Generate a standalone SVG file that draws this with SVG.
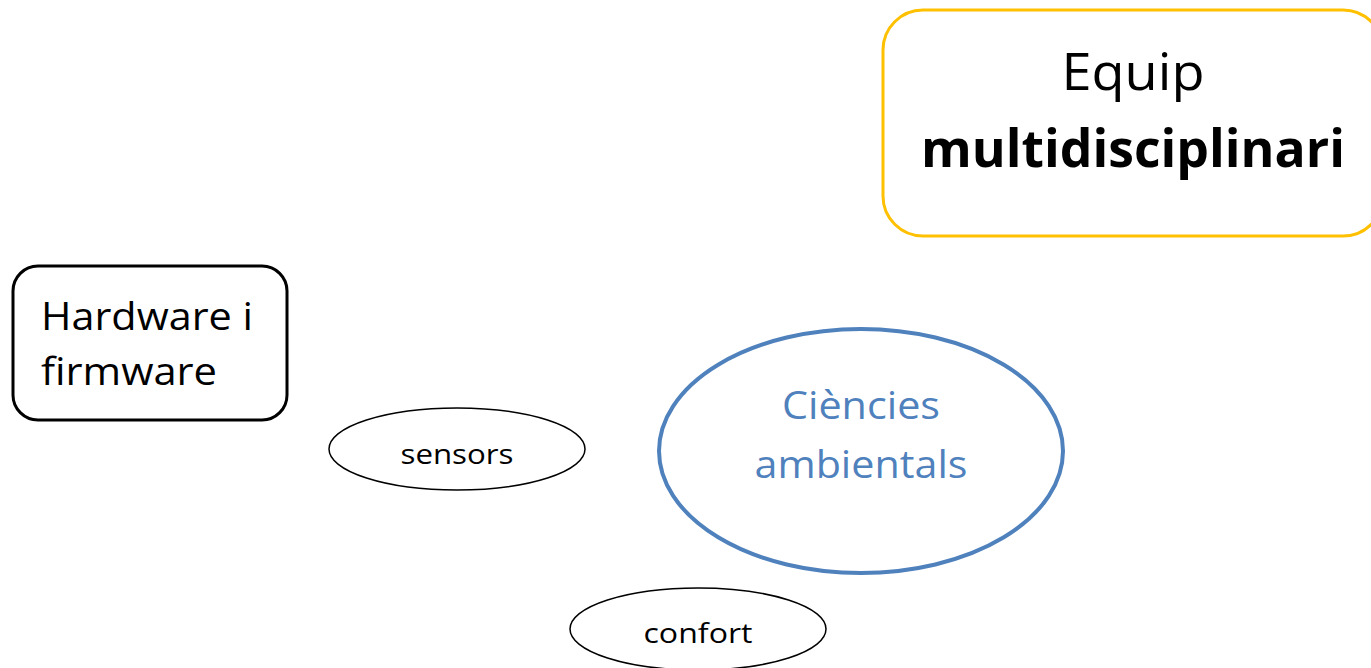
<svg xmlns="http://www.w3.org/2000/svg" width="1371" height="668" viewBox="0 0 1371 668">
<style>
text{font-family:"Open Sans","Noto Sans","Liberation Sans",sans-serif;text-anchor:middle;}
.blk{fill:#000;}
.blue{fill:#4F81BD;}
.oval{fill:#fff;stroke:#000;stroke-width:1.5;}
</style>
<rect width="1371" height="668" fill="#fff"/>
<g id="equip">
<rect x="883" y="10" width="500" height="226" rx="40" ry="40" fill="#fff" stroke="#FFC000" stroke-width="3"/>
<text x="1133" y="90" font-size="52" class="blk" textLength="143" lengthAdjust="spacingAndGlyphs">Equip</text>
<text x="1133" y="167" font-size="52" font-weight="bold" class="blk" textLength="424" lengthAdjust="spacingAndGlyphs">multidisciplinari</text>
</g>
<g id="hardware">
<rect x="13" y="266" width="274" height="154" rx="25" ry="25" fill="#fff" stroke="#000" stroke-width="3"/>
<text x="41" y="330" font-size="38" class="blk" style="text-anchor:start" textLength="212" lengthAdjust="spacingAndGlyphs">Hardware i</text>
<text x="41" y="385" font-size="38" class="blk" style="text-anchor:start" textLength="176" lengthAdjust="spacingAndGlyphs">firmware</text>
</g>
<g id="sensors">
<ellipse cx="457" cy="449" rx="128" ry="41" class="oval"/>
<text x="457" y="464" font-size="28" class="blk" textLength="113" lengthAdjust="spacingAndGlyphs">sensors</text>
</g>
<g id="ciencies">
<ellipse cx="861" cy="451" rx="202" ry="122" fill="#fff" stroke="#4F81BD" stroke-width="4"/>
<text x="861" y="419" font-size="38" class="blue" textLength="158" lengthAdjust="spacingAndGlyphs">Ciències</text>
<text x="861" y="478" font-size="38" class="blue" textLength="213" lengthAdjust="spacingAndGlyphs">ambientals</text>
</g>
<g id="confort">
<ellipse cx="698" cy="629" rx="128" ry="41" class="oval"/>
<text x="698" y="643" font-size="28" class="blk" textLength="109" lengthAdjust="spacingAndGlyphs">confort</text>
</g>
<g id="connectors"></g>
</svg>
